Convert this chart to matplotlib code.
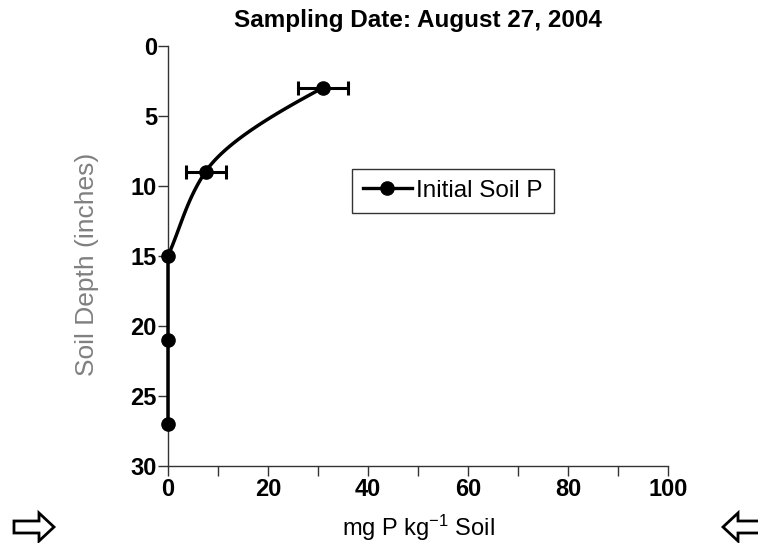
import numpy as np
import matplotlib
matplotlib.use("Agg")
import matplotlib.pyplot as plt
from matplotlib.patches import Polygon

plt.rcParams['font.family'] = ['Liberation Sans', 'DejaVu Sans']
plt.rcParams['mathtext.fontset'] = 'custom'
plt.rcParams['mathtext.rm'] = 'Liberation Sans'
plt.rcParams['mathtext.it'] = 'Liberation Sans:italic'
plt.rcParams['mathtext.bf'] = 'Liberation Sans:bold'

depth = [3, 9, 15, 21, 27]
soil_p = [31.0, 7.5, 0.0, 0.0, 0.0]
err = [5.0, 4.0, 0.0, 0.0, 0.0]
series_name = "Initial Soil P"
title = "Sampling Date: August 27, 2004"
xlabel = r"mg P kg$^{\mathrm{-1}}$ Soil"
ylabel = "Soil Depth (inches)"
xticks = [0, 20, 40, 60, 80, 100]
yticks = [0, 5, 10, 15, 20, 25, 30]

W, H = 758, 543
fig = plt.figure(figsize=(W/100, H/100), dpi=100)
ax = fig.add_axes([168/W, 1-466/H, 500/W, (466-45.7)/H])

# smooth curve through the upper points (cubic Hermite in depth), straight below
d = np.array(depth, float); p = np.array(soil_p, float)
f01 = (p[1]-p[0])/(d[1]-d[0]); f12 = (p[2]-p[1])/(d[2]-d[1])
f012 = (f12-f01)/(d[2]-d[0])
m = [f01 + f012*(d[0]-d[1]), 2.0/(1.0/f01 + 1.0/f12), f12]
cx, cy = [], []
for i in range(2):
    h = d[i+1]-d[i]
    t = np.linspace(0, 1, 60)
    h00 = 2*t**3-3*t**2+1; h10 = t**3-2*t**2+t
    h01 = -2*t**3+3*t**2; h11 = t**3-t**2
    cx.append(h00*p[i] + h10*h*m[i] + h01*p[i+1] + h11*h*m[i+1])
    cy.append(d[i] + t*h)
cx = np.concatenate(cx + [p[3:]]); cy = np.concatenate(cy + [d[3:]])
ax.plot(np.clip(cx, 0, None), cy, color='black', lw=2.5, solid_capstyle='round',
        zorder=3, clip_on=False)

ax.errorbar(soil_p[:2], depth[:2], xerr=err[:2], fmt='none', ecolor='black',
            elinewidth=2.2, capsize=5, capthick=2.2, zorder=3)
ax.plot(soil_p, depth, 'o', color='black', markersize=9.5, zorder=4, clip_on=False)

# legend proxy
ax.plot([], [], '-o', color='black', lw=2.4, markersize=9.5, label=series_name)
leg = ax.legend(loc='upper left', bbox_to_anchor=(0.368, 0.7066), frameon=True,
                fancybox=False, edgecolor='black', fontsize=17.5,
                handlelength=2.0, handletextpad=0.2, borderpad=0.45,
                borderaxespad=0)
leg.get_frame().set_linewidth(1.0)

ax.set_xlim(0, 100)
ax.set_ylim(30, 0)
ax.set_xticks(xticks)
ax.set_xticks(np.arange(0, 101, 10), minor=True)
ax.set_yticks(yticks)
ax.set_xticklabels([str(t) for t in xticks], fontsize=17, fontweight='bold')
ax.set_yticklabels([str(t) for t in yticks], fontsize=17, fontweight='bold')
ax.tick_params(axis='both', which='both', direction='out', length=7, width=1,
               color='#333333', pad=1)
ax.tick_params(axis='x', which='major', pad=2)
for s in ['top', 'right']:
    ax.spines[s].set_visible(False)
for s in ['left', 'bottom']:
    ax.spines[s].set_linewidth(1.0)
    ax.spines[s].set_color('#333333')

fig.text(418/W, 1-20/H, title, ha='center', va='center', fontsize=17.5,
         fontweight='bold')
fig.text(418/W, 1-528/H, xlabel, ha='center', va='center', fontsize=17)
fig.text(87/W, 1-264/H, ylabel, ha='center', va='center', fontsize=19,
         rotation=90, color='#808080')

def arrow(x0, direction):
    yc, w, h_body, h_head, head = 527, 40, 12, 28, 15
    if direction > 0:
        pts = [(x0, yc-h_body/2), (x0+w-head, yc-h_body/2), (x0+w-head, yc-h_head/2),
               (x0+w, yc), (x0+w-head, yc+h_head/2), (x0+w-head, yc+h_body/2),
               (x0, yc+h_body/2)]
    else:
        pts = [(x0+w, yc-h_body/2), (x0+head, yc-h_body/2), (x0+head, yc-h_head/2),
               (x0, yc), (x0+head, yc+h_head/2), (x0+head, yc+h_body/2),
               (x0+w, yc+h_body/2)]
    pts = [(px/W, 1-py/H) for px, py in pts]
    fig.patches.append(Polygon(pts, closed=True, facecolor='white', edgecolor='black',
                               lw=2.0, joinstyle='miter', transform=fig.transFigure))

arrow(14, 1)
arrow(723, -1)

fig.savefig('out.png', dpi=100)
